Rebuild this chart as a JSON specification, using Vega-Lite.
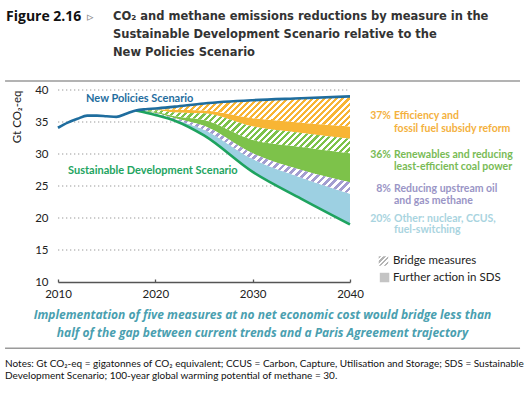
{
"$schema":"https://vega.github.io/schema/vega-lite/v6.json",
"width":292,"height":192,
"autosize":{"type":"none"},
"padding":{"left":58,"top":90,"right":180,"bottom":113},
"background":"white",
"config":{"view":{"stroke":null}},
"datasets":{
"grid":[{"x":2010,"x2":2040,"y":15},{"x":2010,"x2":2040,"y":20},{"x":2010,"x2":2040,"y":25},{"x":2010,"x2":2040,"y":30},{"x":2010,"x2":2040,"y":35},{"x":2010,"x2":2040,"y":40}],
"nps":[{"x":2010,"y":34.1},{"x":2011,"y":34.9},{"x":2012,"y":35.5},{"x":2013,"y":36.0},{"x":2014,"y":36.0},{"x":2015,"y":35.9},{"x":2016,"y":35.8},{"x":2017,"y":36.3},{"x":2018,"y":36.8},{"x":2019,"y":37.0},{"x":2020,"y":37.1},{"x":2022,"y":37.4},{"x":2025,"y":37.9},{"x":2030,"y":38.4},{"x":2035,"y":38.7},{"x":2040,"y":39.0}],
"sds":[{"x":2018,"y":36.8},{"x":2020,"y":36.1},{"x":2022,"y":35.2},{"x":2025,"y":32.9},{"x":2030,"y":27.2},{"x":2035,"y":23.0},{"x":2040,"y":19.0}],
"bands":[
{"x":2018,"band":"yh","y":36.8,"lo":36.8},{"x":2018,"band":"ys","y":36.8,"lo":36.8},{"x":2018,"band":"gh","y":36.8,"lo":36.8},{"x":2018,"band":"gs","y":36.8,"lo":36.8},{"x":2018,"band":"mh","y":36.8,"lo":36.8},{"x":2018,"band":"ob","y":36.8,"lo":36.8},
{"x":2020,"band":"yh","y":37.1,"lo":36.95},{"x":2020,"band":"ys","y":36.95,"lo":36.85},{"x":2020,"band":"gh","y":36.85,"lo":36.6},{"x":2020,"band":"gs","y":36.6,"lo":36.4},{"x":2020,"band":"mh","y":36.4,"lo":36.3},{"x":2020,"band":"ob","y":36.3,"lo":36.1},
{"x":2022,"band":"yh","y":37.4,"lo":36.9},{"x":2022,"band":"ys","y":36.9,"lo":36.5},{"x":2022,"band":"gh","y":36.5,"lo":35.9},{"x":2022,"band":"gs","y":35.9,"lo":35.6},{"x":2022,"band":"mh","y":35.6,"lo":35.4},{"x":2022,"band":"ob","y":35.4,"lo":35.2},
{"x":2025,"band":"yh","y":37.9,"lo":36.8},{"x":2025,"band":"ys","y":36.8,"lo":36.35},{"x":2025,"band":"gh","y":36.35,"lo":35.3},{"x":2025,"band":"gs","y":35.3,"lo":34.4},{"x":2025,"band":"mh","y":34.4,"lo":33.8},{"x":2025,"band":"ob","y":33.8,"lo":32.9},
{"x":2030,"band":"yh","y":38.4,"lo":35.6},{"x":2030,"band":"ys","y":35.6,"lo":34.3},{"x":2030,"band":"gh","y":34.3,"lo":32.2},{"x":2030,"band":"gs","y":32.2,"lo":30.1},{"x":2030,"band":"mh","y":30.1,"lo":29.2},{"x":2030,"band":"ob","y":29.2,"lo":27.2},
{"x":2035,"band":"yh","y":38.7,"lo":34.9},{"x":2035,"band":"ys","y":34.9,"lo":33.3},{"x":2035,"band":"gh","y":33.3,"lo":31.1},{"x":2035,"band":"gs","y":31.1,"lo":27.5},{"x":2035,"band":"mh","y":27.5,"lo":26.3},{"x":2035,"band":"ob","y":26.3,"lo":23.0},
{"x":2040,"band":"yh","y":39.0,"lo":34.3},{"x":2040,"band":"ys","y":34.3,"lo":32.4},{"x":2040,"band":"gh","y":32.4,"lo":30.1},{"x":2040,"band":"gs","y":30.1,"lo":25.6},{"x":2040,"band":"mh","y":25.6,"lo":23.8},{"x":2040,"band":"ob","y":23.8,"lo":19.0}
],
"ann":[
{"grp":"fig","x":2004.66,"y":51.41,"text":"Figure 2.16"},
{"grp":"tri","x":2012.98,"y":51.41,"text":"▹"},
{"grp":"title","x":2015.65,"y":51.41,"text":"CO₂ and methane emissions reductions by measure in the"},
{"grp":"title","x":2015.65,"y":48.59,"text":"Sustainable Development Scenario relative to the"},
{"grp":"title","x":2015.65,"y":45.78,"text":"New Policies Scenario"},
{"grp":"nps","x":2012.88,"y":38.59,"text":"New Policies Scenario"},
{"grp":"sds","x":2011.03,"y":27.34,"text":"Sustainable Development Scenario"},
{"grp":"pct","cat":"eff","x":2044.21,"y":35.94,"text":"37%"},
{"grp":"txt","cat":"eff","x":2044.52,"y":35.94,"text":"Efficiency and"},
{"grp":"txt","cat":"eff","x":2044.52,"y":33.98,"text":"fossil fuel subsidy reform"},
{"grp":"pct","cat":"ren","x":2044.21,"y":29.84,"text":"36%"},
{"grp":"txt","cat":"ren","x":2044.52,"y":29.84,"text":"Renewables and reducing"},
{"grp":"txt","cat":"ren","x":2044.52,"y":27.97,"text":"least-efficient coal power"},
{"grp":"pct","cat":"met","x":2044.21,"y":24.53,"text":"8%"},
{"grp":"txt","cat":"met","x":2044.52,"y":24.53,"text":"Reducing upstream oil"},
{"grp":"txt","cat":"met","x":2044.52,"y":22.66,"text":"and gas methane"},
{"grp":"pct","cat":"oth","x":2044.21,"y":19.88,"text":"20%"},
{"grp":"txt","cat":"oth","x":2044.52,"y":19.88,"text":"Other: nuclear, CCUS,"},
{"grp":"txt","cat":"oth","x":2044.52,"y":18.05,"text":"fuel-switching"},
{"grp":"leg","x":2044.42,"y":13.28,"text":"Bridge measures"},
{"grp":"leg","x":2044.42,"y":10.67,"text":"Further action in SDS"},
{"grp":"msg","x":2031.01,"y":4.84,"text":"Implementation of five measures at no net economic cost would bridge less than"},
{"grp":"msg","x":2031.01,"y":1.98,"text":"half of the gap between current trends and a Paris Agreement trajectory"},
{"grp":"note","x":2004.56,"y":-2.81,"text":"Notes: Gt CO₂-eq = gigatonnes of CO₂ equivalent; CCUS = Carbon, Capture, Utilisation and Storage; SDS = Sustainable"},
{"grp":"note","x":2004.56,"y":-4.69,"text":"Development Scenario; 100-year global warming potential of methane = 30."}
],
"icons":[{"kind":"hatch","x":2043.44,"y":13.28},{"kind":"solid","x":2043.55,"y":10.70}],
"rules":[{"x":2004.56,"x2":2057.47,"y":41.41},{"x":2004.56,"x2":2057.47,"y":-0.36}]
},
"encoding":{
 "x":{"field":"x","type":"quantitative","scale":{"domain":[2010,2040],"nice":false,"zero":false},
  "axis":{"values":[2010,2020,2030,2040],"format":"d","title":null,"grid":false,"domainColor":"#555","domainWidth":1.3,"tickColor":"#555","tickWidth":1.3,"tickSize":-3,"labelPadding":9,"labelFont":"Lato","labelFontSize":11.5,"labelColor":"#222","labelFlush":false,"labelOverlap":false}},
 "y":{"field":"y","type":"quantitative","scale":{"domain":[10,40],"nice":false,"zero":false},
  "axis":{"values":[10,15,20,25,30,35,40],"title":"Gt CO₂-eq","titleFont":"Lato","titleFontSize":11.5,"titleFontWeight":"normal","titleColor":"#222","titleAnchor":"end","titlePadding":12,"domain":false,"ticks":false,"labelPadding":10,"labelFont":"Lato","labelFontSize":11.5,"labelColor":"#222","labelOverlap":false,"grid":false}}
},
"layer":[
{"data":{"name":"grid"},"mark":{"type":"rule","color":"#9a9a9a","strokeWidth":1.2,"strokeDash":[1.3,2.7]},"encoding":{"x2":{"field":"x2"}}},
{"data":{"name":"bands"},"transform":[{"filter":"datum.band==='ys'||datum.band==='gs'||datum.band==='ob'"}],
 "mark":{"type":"area","interpolate":"monotone"},
 "encoding":{
  "y2":{"field":"lo"},
  "fill":{"field":"band","type":"nominal","scale":{"domain":["ys","gs","ob"],"range":["#f8b534","#7dc24a","#9dd0e2"]},"legend":null}
 }},
{"data":{"name":"bands"},"transform":[{"filter":"datum.band==='yh'"}],
 "mark":{"type":"area","interpolate":"monotone","fill":{"gradient":"linear","x1":0,"y1":0,"x2":1.1185,"y2":0.1573,"stops":[
{"offset":0,"color":"#f8b534"},{"offset":0.0125,"color":"#f8b534"},{"offset":0.0125,"color":"#fff"},{"offset":0.025,"color":"#fff"},
{"offset":0.025,"color":"#f8b534"},{"offset":0.0375,"color":"#f8b534"},{"offset":0.0375,"color":"#fff"},{"offset":0.05,"color":"#fff"},
{"offset":0.05,"color":"#f8b534"},{"offset":0.0625,"color":"#f8b534"},{"offset":0.0625,"color":"#fff"},{"offset":0.075,"color":"#fff"},
{"offset":0.075,"color":"#f8b534"},{"offset":0.0875,"color":"#f8b534"},{"offset":0.0875,"color":"#fff"},{"offset":0.1,"color":"#fff"},
{"offset":0.1,"color":"#f8b534"},{"offset":0.1125,"color":"#f8b534"},{"offset":0.1125,"color":"#fff"},{"offset":0.125,"color":"#fff"},
{"offset":0.125,"color":"#f8b534"},{"offset":0.1375,"color":"#f8b534"},{"offset":0.1375,"color":"#fff"},{"offset":0.15,"color":"#fff"},
{"offset":0.15,"color":"#f8b534"},{"offset":0.1625,"color":"#f8b534"},{"offset":0.1625,"color":"#fff"},{"offset":0.175,"color":"#fff"},
{"offset":0.175,"color":"#f8b534"},{"offset":0.1875,"color":"#f8b534"},{"offset":0.1875,"color":"#fff"},{"offset":0.2,"color":"#fff"},
{"offset":0.2,"color":"#f8b534"},{"offset":0.2125,"color":"#f8b534"},{"offset":0.2125,"color":"#fff"},{"offset":0.225,"color":"#fff"},
{"offset":0.225,"color":"#f8b534"},{"offset":0.2375,"color":"#f8b534"},{"offset":0.2375,"color":"#fff"},{"offset":0.25,"color":"#fff"},
{"offset":0.25,"color":"#f8b534"},{"offset":0.2625,"color":"#f8b534"},{"offset":0.2625,"color":"#fff"},{"offset":0.275,"color":"#fff"},
{"offset":0.275,"color":"#f8b534"},{"offset":0.2875,"color":"#f8b534"},{"offset":0.2875,"color":"#fff"},{"offset":0.3,"color":"#fff"},
{"offset":0.3,"color":"#f8b534"},{"offset":0.3125,"color":"#f8b534"},{"offset":0.3125,"color":"#fff"},{"offset":0.325,"color":"#fff"},
{"offset":0.325,"color":"#f8b534"},{"offset":0.3375,"color":"#f8b534"},{"offset":0.3375,"color":"#fff"},{"offset":0.35,"color":"#fff"},
{"offset":0.35,"color":"#f8b534"},{"offset":0.3625,"color":"#f8b534"},{"offset":0.3625,"color":"#fff"},{"offset":0.375,"color":"#fff"},
{"offset":0.375,"color":"#f8b534"},{"offset":0.3875,"color":"#f8b534"},{"offset":0.3875,"color":"#fff"},{"offset":0.4,"color":"#fff"},
{"offset":0.4,"color":"#f8b534"},{"offset":0.4125,"color":"#f8b534"},{"offset":0.4125,"color":"#fff"},{"offset":0.425,"color":"#fff"},
{"offset":0.425,"color":"#f8b534"},{"offset":0.4375,"color":"#f8b534"},{"offset":0.4375,"color":"#fff"},{"offset":0.45,"color":"#fff"},
{"offset":0.45,"color":"#f8b534"},{"offset":0.4625,"color":"#f8b534"},{"offset":0.4625,"color":"#fff"},{"offset":0.475,"color":"#fff"},
{"offset":0.475,"color":"#f8b534"},{"offset":0.4875,"color":"#f8b534"},{"offset":0.4875,"color":"#fff"},{"offset":0.5,"color":"#fff"},
{"offset":0.5,"color":"#f8b534"},{"offset":0.5125,"color":"#f8b534"},{"offset":0.5125,"color":"#fff"},{"offset":0.525,"color":"#fff"},
{"offset":0.525,"color":"#f8b534"},{"offset":0.5375,"color":"#f8b534"},{"offset":0.5375,"color":"#fff"},{"offset":0.55,"color":"#fff"},
{"offset":0.55,"color":"#f8b534"},{"offset":0.5625,"color":"#f8b534"},{"offset":0.5625,"color":"#fff"},{"offset":0.575,"color":"#fff"},
{"offset":0.575,"color":"#f8b534"},{"offset":0.5875,"color":"#f8b534"},{"offset":0.5875,"color":"#fff"},{"offset":0.6,"color":"#fff"},
{"offset":0.6,"color":"#f8b534"},{"offset":0.6125,"color":"#f8b534"},{"offset":0.6125,"color":"#fff"},{"offset":0.625,"color":"#fff"},
{"offset":0.625,"color":"#f8b534"},{"offset":0.6375,"color":"#f8b534"},{"offset":0.6375,"color":"#fff"},{"offset":0.65,"color":"#fff"},
{"offset":0.65,"color":"#f8b534"},{"offset":0.6625,"color":"#f8b534"},{"offset":0.6625,"color":"#fff"},{"offset":0.675,"color":"#fff"},
{"offset":0.675,"color":"#f8b534"},{"offset":0.6875,"color":"#f8b534"},{"offset":0.6875,"color":"#fff"},{"offset":0.7,"color":"#fff"},
{"offset":0.7,"color":"#f8b534"},{"offset":0.7125,"color":"#f8b534"},{"offset":0.7125,"color":"#fff"},{"offset":0.725,"color":"#fff"},
{"offset":0.725,"color":"#f8b534"},{"offset":0.7375,"color":"#f8b534"},{"offset":0.7375,"color":"#fff"},{"offset":0.75,"color":"#fff"},
{"offset":0.75,"color":"#f8b534"},{"offset":0.7625,"color":"#f8b534"},{"offset":0.7625,"color":"#fff"},{"offset":0.775,"color":"#fff"},
{"offset":0.775,"color":"#f8b534"},{"offset":0.7875,"color":"#f8b534"},{"offset":0.7875,"color":"#fff"},{"offset":0.8,"color":"#fff"},
{"offset":0.8,"color":"#f8b534"},{"offset":0.8125,"color":"#f8b534"},{"offset":0.8125,"color":"#fff"},{"offset":0.825,"color":"#fff"},
{"offset":0.825,"color":"#f8b534"},{"offset":0.8375,"color":"#f8b534"},{"offset":0.8375,"color":"#fff"},{"offset":0.85,"color":"#fff"},
{"offset":0.85,"color":"#f8b534"},{"offset":0.8625,"color":"#f8b534"},{"offset":0.8625,"color":"#fff"},{"offset":0.875,"color":"#fff"},
{"offset":0.875,"color":"#f8b534"},{"offset":0.8875,"color":"#f8b534"},{"offset":0.8875,"color":"#fff"},{"offset":0.9,"color":"#fff"},
{"offset":0.9,"color":"#f8b534"},{"offset":0.9125,"color":"#f8b534"},{"offset":0.9125,"color":"#fff"},{"offset":0.925,"color":"#fff"},
{"offset":0.925,"color":"#f8b534"},{"offset":0.9375,"color":"#f8b534"},{"offset":0.9375,"color":"#fff"},{"offset":0.95,"color":"#fff"},
{"offset":0.95,"color":"#f8b534"},{"offset":0.9625,"color":"#f8b534"},{"offset":0.9625,"color":"#fff"},{"offset":0.975,"color":"#fff"},
{"offset":0.975,"color":"#f8b534"},{"offset":0.9875,"color":"#f8b534"},{"offset":0.9875,"color":"#fff"},{"offset":1,"color":"#fff"}
 ]}},
 "encoding":{"y2":{"field":"lo"}}},
{"data":{"name":"bands"},"transform":[{"filter":"datum.band==='gh'"}],
 "mark":{"type":"area","interpolate":"monotone","fill":{"gradient":"linear","x1":0,"y1":0,"x2":1.1548,"y2":0.233,"stops":[
{"offset":0,"color":"#7dc24a"},{"offset":0.0125,"color":"#7dc24a"},{"offset":0.0125,"color":"#fff"},{"offset":0.025,"color":"#fff"},
{"offset":0.025,"color":"#7dc24a"},{"offset":0.0375,"color":"#7dc24a"},{"offset":0.0375,"color":"#fff"},{"offset":0.05,"color":"#fff"},
{"offset":0.05,"color":"#7dc24a"},{"offset":0.0625,"color":"#7dc24a"},{"offset":0.0625,"color":"#fff"},{"offset":0.075,"color":"#fff"},
{"offset":0.075,"color":"#7dc24a"},{"offset":0.0875,"color":"#7dc24a"},{"offset":0.0875,"color":"#fff"},{"offset":0.1,"color":"#fff"},
{"offset":0.1,"color":"#7dc24a"},{"offset":0.1125,"color":"#7dc24a"},{"offset":0.1125,"color":"#fff"},{"offset":0.125,"color":"#fff"},
{"offset":0.125,"color":"#7dc24a"},{"offset":0.1375,"color":"#7dc24a"},{"offset":0.1375,"color":"#fff"},{"offset":0.15,"color":"#fff"},
{"offset":0.15,"color":"#7dc24a"},{"offset":0.1625,"color":"#7dc24a"},{"offset":0.1625,"color":"#fff"},{"offset":0.175,"color":"#fff"},
{"offset":0.175,"color":"#7dc24a"},{"offset":0.1875,"color":"#7dc24a"},{"offset":0.1875,"color":"#fff"},{"offset":0.2,"color":"#fff"},
{"offset":0.2,"color":"#7dc24a"},{"offset":0.2125,"color":"#7dc24a"},{"offset":0.2125,"color":"#fff"},{"offset":0.225,"color":"#fff"},
{"offset":0.225,"color":"#7dc24a"},{"offset":0.2375,"color":"#7dc24a"},{"offset":0.2375,"color":"#fff"},{"offset":0.25,"color":"#fff"},
{"offset":0.25,"color":"#7dc24a"},{"offset":0.2625,"color":"#7dc24a"},{"offset":0.2625,"color":"#fff"},{"offset":0.275,"color":"#fff"},
{"offset":0.275,"color":"#7dc24a"},{"offset":0.2875,"color":"#7dc24a"},{"offset":0.2875,"color":"#fff"},{"offset":0.3,"color":"#fff"},
{"offset":0.3,"color":"#7dc24a"},{"offset":0.3125,"color":"#7dc24a"},{"offset":0.3125,"color":"#fff"},{"offset":0.325,"color":"#fff"},
{"offset":0.325,"color":"#7dc24a"},{"offset":0.3375,"color":"#7dc24a"},{"offset":0.3375,"color":"#fff"},{"offset":0.35,"color":"#fff"},
{"offset":0.35,"color":"#7dc24a"},{"offset":0.3625,"color":"#7dc24a"},{"offset":0.3625,"color":"#fff"},{"offset":0.375,"color":"#fff"},
{"offset":0.375,"color":"#7dc24a"},{"offset":0.3875,"color":"#7dc24a"},{"offset":0.3875,"color":"#fff"},{"offset":0.4,"color":"#fff"},
{"offset":0.4,"color":"#7dc24a"},{"offset":0.4125,"color":"#7dc24a"},{"offset":0.4125,"color":"#fff"},{"offset":0.425,"color":"#fff"},
{"offset":0.425,"color":"#7dc24a"},{"offset":0.4375,"color":"#7dc24a"},{"offset":0.4375,"color":"#fff"},{"offset":0.45,"color":"#fff"},
{"offset":0.45,"color":"#7dc24a"},{"offset":0.4625,"color":"#7dc24a"},{"offset":0.4625,"color":"#fff"},{"offset":0.475,"color":"#fff"},
{"offset":0.475,"color":"#7dc24a"},{"offset":0.4875,"color":"#7dc24a"},{"offset":0.4875,"color":"#fff"},{"offset":0.5,"color":"#fff"},
{"offset":0.5,"color":"#7dc24a"},{"offset":0.5125,"color":"#7dc24a"},{"offset":0.5125,"color":"#fff"},{"offset":0.525,"color":"#fff"},
{"offset":0.525,"color":"#7dc24a"},{"offset":0.5375,"color":"#7dc24a"},{"offset":0.5375,"color":"#fff"},{"offset":0.55,"color":"#fff"},
{"offset":0.55,"color":"#7dc24a"},{"offset":0.5625,"color":"#7dc24a"},{"offset":0.5625,"color":"#fff"},{"offset":0.575,"color":"#fff"},
{"offset":0.575,"color":"#7dc24a"},{"offset":0.5875,"color":"#7dc24a"},{"offset":0.5875,"color":"#fff"},{"offset":0.6,"color":"#fff"},
{"offset":0.6,"color":"#7dc24a"},{"offset":0.6125,"color":"#7dc24a"},{"offset":0.6125,"color":"#fff"},{"offset":0.625,"color":"#fff"},
{"offset":0.625,"color":"#7dc24a"},{"offset":0.6375,"color":"#7dc24a"},{"offset":0.6375,"color":"#fff"},{"offset":0.65,"color":"#fff"},
{"offset":0.65,"color":"#7dc24a"},{"offset":0.6625,"color":"#7dc24a"},{"offset":0.6625,"color":"#fff"},{"offset":0.675,"color":"#fff"},
{"offset":0.675,"color":"#7dc24a"},{"offset":0.6875,"color":"#7dc24a"},{"offset":0.6875,"color":"#fff"},{"offset":0.7,"color":"#fff"},
{"offset":0.7,"color":"#7dc24a"},{"offset":0.7125,"color":"#7dc24a"},{"offset":0.7125,"color":"#fff"},{"offset":0.725,"color":"#fff"},
{"offset":0.725,"color":"#7dc24a"},{"offset":0.7375,"color":"#7dc24a"},{"offset":0.7375,"color":"#fff"},{"offset":0.75,"color":"#fff"},
{"offset":0.75,"color":"#7dc24a"},{"offset":0.7625,"color":"#7dc24a"},{"offset":0.7625,"color":"#fff"},{"offset":0.775,"color":"#fff"},
{"offset":0.775,"color":"#7dc24a"},{"offset":0.7875,"color":"#7dc24a"},{"offset":0.7875,"color":"#fff"},{"offset":0.8,"color":"#fff"},
{"offset":0.8,"color":"#7dc24a"},{"offset":0.8125,"color":"#7dc24a"},{"offset":0.8125,"color":"#fff"},{"offset":0.825,"color":"#fff"},
{"offset":0.825,"color":"#7dc24a"},{"offset":0.8375,"color":"#7dc24a"},{"offset":0.8375,"color":"#fff"},{"offset":0.85,"color":"#fff"},
{"offset":0.85,"color":"#7dc24a"},{"offset":0.8625,"color":"#7dc24a"},{"offset":0.8625,"color":"#fff"},{"offset":0.875,"color":"#fff"},
{"offset":0.875,"color":"#7dc24a"},{"offset":0.8875,"color":"#7dc24a"},{"offset":0.8875,"color":"#fff"},{"offset":0.9,"color":"#fff"},
{"offset":0.9,"color":"#7dc24a"},{"offset":0.9125,"color":"#7dc24a"},{"offset":0.9125,"color":"#fff"},{"offset":0.925,"color":"#fff"},
{"offset":0.925,"color":"#7dc24a"},{"offset":0.9375,"color":"#7dc24a"},{"offset":0.9375,"color":"#fff"},{"offset":0.95,"color":"#fff"},
{"offset":0.95,"color":"#7dc24a"},{"offset":0.9625,"color":"#7dc24a"},{"offset":0.9625,"color":"#fff"},{"offset":0.975,"color":"#fff"},
{"offset":0.975,"color":"#7dc24a"},{"offset":0.9875,"color":"#7dc24a"},{"offset":0.9875,"color":"#fff"},{"offset":1,"color":"#fff"}
 ]}},
 "encoding":{"y2":{"field":"lo"}}},
{"data":{"name":"bands"},"transform":[{"filter":"datum.band==='mh'"}],
 "mark":{"type":"area","interpolate":"monotone","fill":{"gradient":"linear","x1":0,"y1":0,"x2":1.2064,"y2":0.4688,"stops":[
{"offset":0,"color":"#a39dd0"},{"offset":0.0125,"color":"#a39dd0"},{"offset":0.0125,"color":"#fff"},{"offset":0.025,"color":"#fff"},
{"offset":0.025,"color":"#a39dd0"},{"offset":0.0375,"color":"#a39dd0"},{"offset":0.0375,"color":"#fff"},{"offset":0.05,"color":"#fff"},
{"offset":0.05,"color":"#a39dd0"},{"offset":0.0625,"color":"#a39dd0"},{"offset":0.0625,"color":"#fff"},{"offset":0.075,"color":"#fff"},
{"offset":0.075,"color":"#a39dd0"},{"offset":0.0875,"color":"#a39dd0"},{"offset":0.0875,"color":"#fff"},{"offset":0.1,"color":"#fff"},
{"offset":0.1,"color":"#a39dd0"},{"offset":0.1125,"color":"#a39dd0"},{"offset":0.1125,"color":"#fff"},{"offset":0.125,"color":"#fff"},
{"offset":0.125,"color":"#a39dd0"},{"offset":0.1375,"color":"#a39dd0"},{"offset":0.1375,"color":"#fff"},{"offset":0.15,"color":"#fff"},
{"offset":0.15,"color":"#a39dd0"},{"offset":0.1625,"color":"#a39dd0"},{"offset":0.1625,"color":"#fff"},{"offset":0.175,"color":"#fff"},
{"offset":0.175,"color":"#a39dd0"},{"offset":0.1875,"color":"#a39dd0"},{"offset":0.1875,"color":"#fff"},{"offset":0.2,"color":"#fff"},
{"offset":0.2,"color":"#a39dd0"},{"offset":0.2125,"color":"#a39dd0"},{"offset":0.2125,"color":"#fff"},{"offset":0.225,"color":"#fff"},
{"offset":0.225,"color":"#a39dd0"},{"offset":0.2375,"color":"#a39dd0"},{"offset":0.2375,"color":"#fff"},{"offset":0.25,"color":"#fff"},
{"offset":0.25,"color":"#a39dd0"},{"offset":0.2625,"color":"#a39dd0"},{"offset":0.2625,"color":"#fff"},{"offset":0.275,"color":"#fff"},
{"offset":0.275,"color":"#a39dd0"},{"offset":0.2875,"color":"#a39dd0"},{"offset":0.2875,"color":"#fff"},{"offset":0.3,"color":"#fff"},
{"offset":0.3,"color":"#a39dd0"},{"offset":0.3125,"color":"#a39dd0"},{"offset":0.3125,"color":"#fff"},{"offset":0.325,"color":"#fff"},
{"offset":0.325,"color":"#a39dd0"},{"offset":0.3375,"color":"#a39dd0"},{"offset":0.3375,"color":"#fff"},{"offset":0.35,"color":"#fff"},
{"offset":0.35,"color":"#a39dd0"},{"offset":0.3625,"color":"#a39dd0"},{"offset":0.3625,"color":"#fff"},{"offset":0.375,"color":"#fff"},
{"offset":0.375,"color":"#a39dd0"},{"offset":0.3875,"color":"#a39dd0"},{"offset":0.3875,"color":"#fff"},{"offset":0.4,"color":"#fff"},
{"offset":0.4,"color":"#a39dd0"},{"offset":0.4125,"color":"#a39dd0"},{"offset":0.4125,"color":"#fff"},{"offset":0.425,"color":"#fff"},
{"offset":0.425,"color":"#a39dd0"},{"offset":0.4375,"color":"#a39dd0"},{"offset":0.4375,"color":"#fff"},{"offset":0.45,"color":"#fff"},
{"offset":0.45,"color":"#a39dd0"},{"offset":0.4625,"color":"#a39dd0"},{"offset":0.4625,"color":"#fff"},{"offset":0.475,"color":"#fff"},
{"offset":0.475,"color":"#a39dd0"},{"offset":0.4875,"color":"#a39dd0"},{"offset":0.4875,"color":"#fff"},{"offset":0.5,"color":"#fff"},
{"offset":0.5,"color":"#a39dd0"},{"offset":0.5125,"color":"#a39dd0"},{"offset":0.5125,"color":"#fff"},{"offset":0.525,"color":"#fff"},
{"offset":0.525,"color":"#a39dd0"},{"offset":0.5375,"color":"#a39dd0"},{"offset":0.5375,"color":"#fff"},{"offset":0.55,"color":"#fff"},
{"offset":0.55,"color":"#a39dd0"},{"offset":0.5625,"color":"#a39dd0"},{"offset":0.5625,"color":"#fff"},{"offset":0.575,"color":"#fff"},
{"offset":0.575,"color":"#a39dd0"},{"offset":0.5875,"color":"#a39dd0"},{"offset":0.5875,"color":"#fff"},{"offset":0.6,"color":"#fff"},
{"offset":0.6,"color":"#a39dd0"},{"offset":0.6125,"color":"#a39dd0"},{"offset":0.6125,"color":"#fff"},{"offset":0.625,"color":"#fff"},
{"offset":0.625,"color":"#a39dd0"},{"offset":0.6375,"color":"#a39dd0"},{"offset":0.6375,"color":"#fff"},{"offset":0.65,"color":"#fff"},
{"offset":0.65,"color":"#a39dd0"},{"offset":0.6625,"color":"#a39dd0"},{"offset":0.6625,"color":"#fff"},{"offset":0.675,"color":"#fff"},
{"offset":0.675,"color":"#a39dd0"},{"offset":0.6875,"color":"#a39dd0"},{"offset":0.6875,"color":"#fff"},{"offset":0.7,"color":"#fff"},
{"offset":0.7,"color":"#a39dd0"},{"offset":0.7125,"color":"#a39dd0"},{"offset":0.7125,"color":"#fff"},{"offset":0.725,"color":"#fff"},
{"offset":0.725,"color":"#a39dd0"},{"offset":0.7375,"color":"#a39dd0"},{"offset":0.7375,"color":"#fff"},{"offset":0.75,"color":"#fff"},
{"offset":0.75,"color":"#a39dd0"},{"offset":0.7625,"color":"#a39dd0"},{"offset":0.7625,"color":"#fff"},{"offset":0.775,"color":"#fff"},
{"offset":0.775,"color":"#a39dd0"},{"offset":0.7875,"color":"#a39dd0"},{"offset":0.7875,"color":"#fff"},{"offset":0.8,"color":"#fff"},
{"offset":0.8,"color":"#a39dd0"},{"offset":0.8125,"color":"#a39dd0"},{"offset":0.8125,"color":"#fff"},{"offset":0.825,"color":"#fff"},
{"offset":0.825,"color":"#a39dd0"},{"offset":0.8375,"color":"#a39dd0"},{"offset":0.8375,"color":"#fff"},{"offset":0.85,"color":"#fff"},
{"offset":0.85,"color":"#a39dd0"},{"offset":0.8625,"color":"#a39dd0"},{"offset":0.8625,"color":"#fff"},{"offset":0.875,"color":"#fff"},
{"offset":0.875,"color":"#a39dd0"},{"offset":0.8875,"color":"#a39dd0"},{"offset":0.8875,"color":"#fff"},{"offset":0.9,"color":"#fff"},
{"offset":0.9,"color":"#a39dd0"},{"offset":0.9125,"color":"#a39dd0"},{"offset":0.9125,"color":"#fff"},{"offset":0.925,"color":"#fff"},
{"offset":0.925,"color":"#a39dd0"},{"offset":0.9375,"color":"#a39dd0"},{"offset":0.9375,"color":"#fff"},{"offset":0.95,"color":"#fff"},
{"offset":0.95,"color":"#a39dd0"},{"offset":0.9625,"color":"#a39dd0"},{"offset":0.9625,"color":"#fff"},{"offset":0.975,"color":"#fff"},
{"offset":0.975,"color":"#a39dd0"},{"offset":0.9875,"color":"#a39dd0"},{"offset":0.9875,"color":"#fff"},{"offset":1,"color":"#fff"}
 ]}},
 "encoding":{"y2":{"field":"lo"}}},
{"data":{"name":"sds"},"mark":{"type":"line","interpolate":"monotone","color":"#1ea35f","strokeWidth":2.6},"encoding":{}},
{"data":{"name":"nps"},"mark":{"type":"line","interpolate":"monotone","color":"#1f6d9e","strokeWidth":2.6},"encoding":{}},
{"data":{"name":"rules"},"mark":{"type":"rule","color":"#9a9a9a","strokeWidth":1.5},"encoding":{"x2":{"field":"x2"}}},
{"data":{"name":"icons"},"transform":[{"filter":"datum.kind==='hatch'"}],
 "mark":{"type":"point","shape":"square","size":90,"filled":true,"opacity":1,"fill":{"gradient":"linear","x1":0,"y1":0,"x2":1,"y2":1,"stops":[
{"offset":0,"color":"#b3b3b3"},{"offset":0.125,"color":"#b3b3b3"},{"offset":0.125,"color":"#fff"},{"offset":0.25,"color":"#fff"},
{"offset":0.25,"color":"#b3b3b3"},{"offset":0.375,"color":"#b3b3b3"},{"offset":0.375,"color":"#fff"},{"offset":0.5,"color":"#fff"},
{"offset":0.5,"color":"#b3b3b3"},{"offset":0.625,"color":"#b3b3b3"},{"offset":0.625,"color":"#fff"},{"offset":0.75,"color":"#fff"},
{"offset":0.75,"color":"#b3b3b3"},{"offset":0.875,"color":"#b3b3b3"},{"offset":0.875,"color":"#fff"},{"offset":1,"color":"#fff"}]}},
 "encoding":{}},
{"data":{"name":"icons"},"transform":[{"filter":"datum.kind==='solid'"}],
 "mark":{"type":"point","shape":"square","size":90,"filled":true,"opacity":1,"color":"#c4c4c4"},"encoding":{}},
{"data":{"name":"ann"},"transform":[{"filter":"datum.grp==='fig'"}],
 "mark":{"type":"text","align":"left","baseline":"middle","font":"Open Sans","fontWeight":"bold","fontSize":14,"color":"#111"},
 "encoding":{"text":{"field":"text"}}},
{"data":{"name":"ann"},"transform":[{"filter":"datum.grp==='tri'"}],
 "mark":{"type":"text","align":"left","baseline":"middle","font":"DejaVu Sans","fontSize":13,"color":"#888"},
 "encoding":{"text":{"field":"text"}}},
{"data":{"name":"ann"},"transform":[{"filter":"datum.grp==='title'"}],
 "mark":{"type":"text","align":"left","baseline":"middle","font":"DejaVu Sans","fontWeight":"bold","fontSize":11.5,"color":"#333"},
 "encoding":{"text":{"field":"text"}}},
{"data":{"name":"ann"},"transform":[{"filter":"datum.grp==='nps'"}],
 "mark":{"type":"text","align":"left","baseline":"middle","font":"Lato","fontWeight":"bold","fontSize":11,"color":"#1f6d9e"},
 "encoding":{"text":{"field":"text"}}},
{"data":{"name":"ann"},"transform":[{"filter":"datum.grp==='sds'"}],
 "mark":{"type":"text","align":"left","baseline":"middle","font":"Lato","fontWeight":"bold","fontSize":11,"color":"#23a461"},
 "encoding":{"text":{"field":"text"}}},
{"data":{"name":"ann"},"transform":[{"filter":"datum.grp==='pct'"}],
 "mark":{"type":"text","align":"right","baseline":"middle","font":"Lato","fontWeight":"bold","fontSize":10.5},
 "encoding":{"text":{"field":"text"},
  "color":{"field":"cat","type":"nominal","scale":{"domain":["eff","ren","met","oth"],"range":["#f4b13d","#79bb55","#9a95c6","#a9d4e0"]},"legend":null}}},
{"data":{"name":"ann"},"transform":[{"filter":"datum.grp==='txt'"}],
 "mark":{"type":"text","align":"left","baseline":"middle","font":"Lato","fontWeight":"bold","fontSize":10.5},
 "encoding":{"text":{"field":"text"},
  "color":{"field":"cat","type":"nominal","scale":{"domain":["eff","ren","met","oth"],"range":["#f4b13d","#79bb55","#9a95c6","#a9d4e0"]},"legend":null}}},
{"data":{"name":"ann"},"transform":[{"filter":"datum.grp==='leg'"}],
 "mark":{"type":"text","align":"left","baseline":"middle","font":"Lato","fontSize":11.5,"color":"#222"},
 "encoding":{"text":{"field":"text"}}},
{"data":{"name":"ann"},"transform":[{"filter":"datum.grp==='msg'"}],
 "mark":{"type":"text","align":"center","baseline":"middle","font":"Open Sans","fontWeight":"bold","fontStyle":"italic","fontSize":12,"color":"#4a9fb0"},
 "encoding":{"text":{"field":"text"}}},
{"data":{"name":"ann"},"transform":[{"filter":"datum.grp==='note'"}],
 "mark":{"type":"text","align":"left","baseline":"middle","font":"Lato","fontSize":10,"color":"#111"},
 "encoding":{"text":{"field":"text"}}}
]
}
